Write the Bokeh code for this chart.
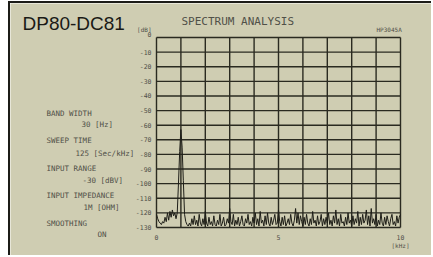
from bokeh.plotting import figure
from bokeh.models import Range1d, Label
from bokeh.embed import file_html
from bokeh.resources import INLINE

# ---- data ----
freq_step_khz = 0.05
level_db = [
    -121, -124, -126, -127, -128, -126, -127, -123, -126, -120,
    -125, -119, -123, -118, -122, -120, -124, -120, -100, -78,
    -63, -75, -98, -121, -126, -128, -129, -127, -129, -124,
    -128, -122, -128, -125, -129, -121, -127, -129, -124, -128,
    -119, -127, -129, -123, -128, -126, -129, -122, -128, -129,
    -125, -128, -121, -129, -127, -123, -129, -128, -124, -127,
    -117, -126, -128, -121, -129, -125, -128, -123, -129, -126,
    -122, -128, -129, -124, -127, -121, -128, -126, -129, -123,
    -127, -120, -128, -124, -129, -119, -127, -125, -129, -122,
    -128, -120, -127, -129, -123, -128, -125, -121, -128, -127,
    -118, -126, -129, -123, -128, -122, -129, -127, -124, -128,
    -121, -127, -129, -125, -117, -127, -120, -128, -122, -126,
    -129, -123, -128, -121, -127, -129, -124, -128, -119, -127,
    -125, -129, -122, -128, -126, -121, -129, -124, -128, -123,
    -127, -120, -128, -125, -129, -122, -127, -118, -128, -124,
    -129, -121, -127, -126, -129, -123, -128, -120, -127, -125,
    -129, -122, -128, -124, -127, -119, -129, -123, -128, -121,
    -127, -125, -118, -128, -122, -129, -117, -127, -124, -128,
    -121, -129, -125, -128, -120, -127, -129, -123, -128, -122,
    -126, -129, -124, -121, -128, -126, -129, -122, -127, -123, -121,
]
freq_khz = [round(i * freq_step_khz, 3) for i in range(len(level_db))]

y_ticks = [0, -10, -20, -30, -40, -50, -60, -70, -80, -90, -100, -110, -120, -130]
x_grid = [0, 1, 2, 3, 4, 5, 6, 7, 8, 9, 10]
x_ticks = [0, 5, 10]
x_tick_labels = ["0", "5", "10"]
x_unit = "[kHz]"
y_unit = "[dB]"

title_text = "DP80-DC81"
header_text = "SPECTRUM ANALYSIS"
model_text = "HP3045A"
settings = [
    ("BAND WIDTH", "30  [Hz]"),
    ("SWEEP TIME", "125  [Sec/kHz]"),
    ("INPUT RANGE", "-30  [dBV]"),
    ("INPUT IMPEDANCE", "1M  [OHM]"),
    ("SMOOTHING", "ON"),
]

# ---- style ----
BG = "#cfcdb2"
INK = "#2a2a20"
TXT = "#505048"
MONO = "DejaVu Sans Mono"

W, H = 423, 254                      # canvas; its origin on the page = (10, 3)
OX, OY = 10, 3
FL, FT, FR, FB = 156, 37, 400, 227   # spectrum grid edges on the page
KX = (FR - FL) / 10.0                # px per kHz
KY = (FB - FT) / 130.0               # px per dB

x_min, x_max = x_grid[0], x_grid[-1]
y_min, y_max = y_ticks[-1], y_ticks[0]

p = figure(width=W, height=H, output_backend="svg", toolbar_location=None,
           x_axis_location=None, y_axis_location=None,
           x_range=Range1d((OX - FL) / KX, (OX + W - FL) / KX),
           y_range=Range1d(y_min - (OY + H - FB) / KY, y_max + (FT - OY) / KY),
           min_border=0)
p.styles = {"border-left": "2px solid #1c1c18", "border-top": "2px solid #1c1c18",
            "margin-left": "8px", "margin-top": "1px"}
p.background_fill_color = BG
p.border_fill_color = BG
p.outline_line_color = None
p.xgrid.visible = False
p.ygrid.visible = False

# grid of the analyser screen, from the tick lists
p.segment(x0=x_grid, y0=[y_min] * len(x_grid), x1=x_grid, y1=[y_max] * len(x_grid),
          line_color=INK, line_width=1.4)
p.segment(x0=[x_min] * len(y_ticks), y0=y_ticks, x1=[x_max] * len(y_ticks), y1=y_ticks,
          line_color=INK, line_width=1.4)

p.line(freq_khz, level_db, line_color="#1e1e18", line_width=1)


def at(px, py):
    return (px - FL) / KX, (FT - py) / KY


def add_label(text, x, y, size, font=MONO, color=TXT, align="left"):
    p.add_layout(Label(x=x, y=y, text=text, text_font=font,
                       text_font_size=size, text_color=color,
                       text_align=align, text_baseline="middle"))


# tick labels (data positions)
for v in y_ticks:
    add_label(str(v), -5 / KX, v + (3 / KY if v == 0 else 0), "6.5px", align="right")
add_label(y_unit, -5 / KX, 8 / KY, "6px", align="right")
for v, t in zip(x_ticks, x_tick_labels):
    add_label(t, v, y_min - 10 / KY, "6.5px", align="center")
add_label(x_unit, x_max, y_min - 18 / KY, "6px", align="center")

# free texts (page positions)
add_label(title_text, *at(22, 23), "19px", font="Liberation Sans", color="#1a1a16")
add_label(header_text, *at(181, 21), "11px")
add_label(model_text, *at(376, 29), "6px")

rows_y = [(113, 124), (140, 153), (168, 180), (195, 207), (223, 234)]
vals_x = [81, 75, 82, 83, 97]
for (name, val), (y1, y2), vx in zip(settings, rows_y, vals_x):
    add_label(name, *at(46, y1), "7.5px")
    add_label(val, *at(vx, y2), "7.5px")

open("out.html", "w").write(file_html(p, INLINE))
